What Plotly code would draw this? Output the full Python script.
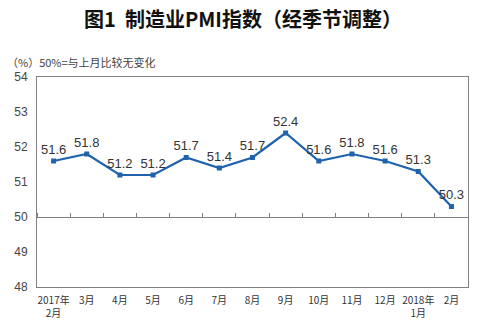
import plotly.graph_objects as go

categories = ["2017年<br>2月", "3月", "4月", "5月", "6月", "7月", "8月", "9月",
              "10月", "11月", "12月", "2018年<br>1月", "2月"]
pmi = [51.6, 51.8, 51.2, 51.2, 51.7, 51.4, 51.7, 52.4, 51.6, 51.8, 51.6, 51.3, 50.3]
y_ticks = [48, 49, 50, 51, 52, 53, 54]

FONT = "Liberation Sans, Arial, Noto Sans CJK SC, sans-serif"
CJK = "Noto Sans CJK SC, Liberation Sans, sans-serif"
BLUE = "#1f63ad"

fig = go.Figure()
fig.add_trace(go.Scatter(
    x=categories, y=pmi, mode="lines+markers+text",
    line=dict(color=BLUE, width=2.2),
    marker=dict(symbol="square", size=5, color=BLUE),
    text=[f"{v:.1f}" for v in pmi], textposition="top center",
    textfont=dict(family=FONT, size=13, color="#333333"),
    cliponaxis=False, showlegend=False,
))
# invisible trace to carry the 50-line axis with boundary ticks
fig.add_trace(go.Scatter(x=categories, y=pmi, xaxis="x2", mode="none",
                         showlegend=False, hoverinfo="skip"))

fig.update_layout(
    width=486, height=328,
    margin=dict(l=37, r=18, t=77, b=41),
    paper_bgcolor="white", plot_bgcolor="white",
    title=dict(text="<b>图1  制造业PMI指数（经季节调整）</b>", x=0.5, xanchor="center",
               y=1 - 20 / 328, yanchor="middle",
               font=dict(family=CJK, size=20, color="#111111")),
    xaxis=dict(type="category", showgrid=False, ticks="", showline=True, automargin=False,
               linecolor="#808080", linewidth=1, mirror=True, ticklabelstandoff=4,
               tickfont=dict(family=CJK, size=10, color="#333333"),
               range=[-0.5, len(categories) - 0.5]),
    xaxis2=dict(type="category", overlaying="x", anchor="free", position=(50 - 48) / (54 - 48),
                side="top", showgrid=False, showline=True, linecolor="#808080", linewidth=1,
                ticks="outside", ticklen=4, tickcolor="#808080", tickson="boundaries",
                automargin=False, showticklabels=False, range=[-0.5, len(categories) - 0.5]),
    yaxis=dict(range=[48, 54], tickvals=y_ticks, showgrid=False, zeroline=False,
               showline=True, linecolor="#808080", linewidth=1, mirror=True, automargin=False,
               ticks="", ticklabelstandoff=6,
               tickfont=dict(family=FONT, size=12, color="#444444")),
    annotations=[dict(text="（%）50%=与上月比较无变化", xref="paper", yref="paper",
                      x=-32 / 431, y=1 + 15 / 210, xanchor="left", yanchor="middle",
                      showarrow=False,
                      font=dict(family=CJK, size=11, color="#444444"))],
)

fig.write_html("out.html")
